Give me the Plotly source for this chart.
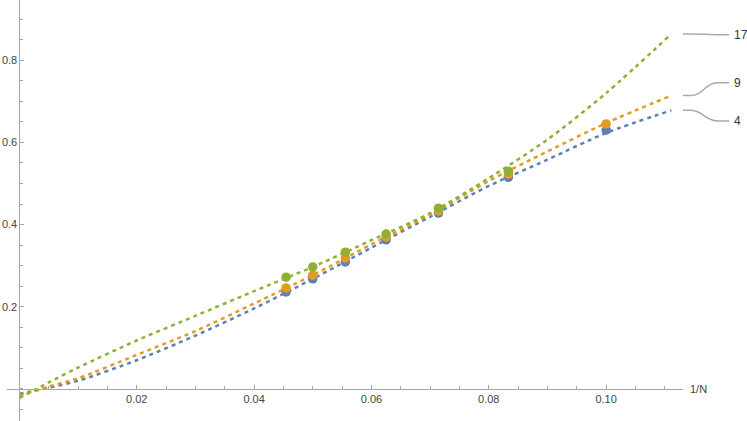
import plotly.graph_objects as go

# data
inv_n = [1/22, 1/20, 1/18, 1/16, 1/14, 1/12, 1/10]
pts_4 = [0.236, 0.268, 0.309, 0.363, 0.428, 0.515, 0.630]
pts_9 = [0.246, 0.277, 0.319, 0.370, 0.433, 0.523, 0.645]
pts_17 = [0.272, 0.297, 0.333, 0.377, 0.440, 0.530]

fit_x = [0, 0.005, 0.01, 0.02, 0.03, 0.04, 0.05, 0.06, 0.07, 0.08, 0.09, 0.10, 1/9]
fit_4 = [-0.012, 0.003, 0.020, 0.070, 0.130, 0.196, 0.268, 0.344, 0.419, 0.494, 0.558, 0.623, 0.678]
fit_9 = [-0.017, 0.006, 0.026, 0.083, 0.141, 0.208, 0.277, 0.352, 0.424, 0.506, 0.578, 0.647, 0.714]
fit_17 = [-0.022, 0.016, 0.052, 0.118, 0.178, 0.238, 0.297, 0.362, 0.428, 0.513, 0.607, 0.720, 0.864]

labels = ['4', '9', '17']
label_y = [0.652, 0.745, 0.862]

x_ticks = [0.02, 0.04, 0.06, 0.08, 0.10]
x_ticktext = ['0.02', '0.04', '0.06', '0.08', '0.10']
y_ticks = [0.2, 0.4, 0.6, 0.8]
y_ticktext = ['0.2', '0.4', '0.6', '0.8']

colors = ['#5E81B5', '#E19C24', '#8FB032']
axis_color = '#a6a6a6'
text_color = '#444444'
font_family = 'Liberation Sans, Arial, sans-serif'

W, H = 747, 421
x_dom = [7 / W, 683 / W]
x_rng = [-0.00211, 0.1131]
y_rng = [-0.0779, 0.9465]

fig = go.Figure()

for fx, fy, c in zip([fit_x] * 3, [fit_4, fit_9, fit_17], colors):
    fig.add_trace(go.Scatter(
        x=fx, y=fy, mode='lines',
        line=dict(color=c, width=2.5, dash='4px,4px', shape='spline', smoothing=0.8),
        hoverinfo='skip'
    ))

for px_, py_, c in zip([inv_n, inv_n, inv_n[:6]], [pts_4, pts_9, pts_17], colors):
    fig.add_trace(go.Scatter(
        x=px_, y=py_, mode='markers',
        marker=dict(color=c, size=9.5, line=dict(width=0))
    ))

# leader lines to the curve labels
ends = [fit_4[-1], fit_9[-1], fit_17[-1]]
x0, x1, xa, xb = 683 / W, 729 / W, 690 / W, 718 / W
for lab, y_end, y_lab in zip(labels, ends, label_y):
    xm = (xa + xb) / 2
    path = (f'M {x0},{y_end} L {xa},{y_end} '
            f'C {xm},{y_end} {xm},{y_lab} {xb},{y_lab} L {x1},{y_lab}')
    fig.add_shape(type='path', path=path, xref='paper', yref='y',
                  line=dict(color='#aaaaaa', width=1.5))
    fig.add_annotation(x=732 / W, y=y_lab, xref='paper', yref='y', text=lab,
                       showarrow=False, xanchor='left', yanchor='middle',
                       font=dict(size=12, color='#333333', family=font_family))

fig.add_annotation(x=688 / W, y=0, xref='paper', yref='y', text='1/N',
                   showarrow=False, xanchor='left', yanchor='middle',
                   font=dict(size=11, color=text_color, family=font_family))

x_pos = (0 - y_rng[0]) / (y_rng[1] - y_rng[0])
y_pos = x_dom[0] + (0 - x_rng[0]) / (x_rng[1] - x_rng[0]) * (x_dom[1] - x_dom[0])

fig.update_layout(
    width=W, height=H,
    margin=dict(l=0, r=0, t=0, b=0, pad=0),
    plot_bgcolor='white', paper_bgcolor='white',
    showlegend=False,
    xaxis=dict(
        domain=x_dom, range=x_rng, anchor='free', position=x_pos,
        showline=True, linecolor=axis_color, linewidth=1,
        showgrid=False, zeroline=False,
        ticks='inside', ticklen=4, tickcolor=axis_color, tickwidth=1,
        tickvals=x_ticks, ticktext=x_ticktext,
        tickfont=dict(size=11, color=text_color, family=font_family),
        minor=dict(tickmode='linear', tick0=0, dtick=0.005, ticks='inside',
                   ticklen=2.5, tickcolor=axis_color, showgrid=False)
    ),
    yaxis=dict(
        domain=[0, 1], range=y_rng, anchor='free', position=y_pos,
        showline=True, linecolor=axis_color, linewidth=1,
        showgrid=False, zeroline=False,
        ticks='inside', ticklen=4, tickcolor=axis_color, tickwidth=1,
        tickvals=y_ticks, ticktext=y_ticktext,
        tickfont=dict(size=11, color=text_color, family=font_family),
        minor=dict(tickmode='linear', tick0=0, dtick=0.05, ticks='inside',
                   ticklen=2.5, tickcolor=axis_color, showgrid=False)
    )
)

# the page's default body margin would push the 747x421 figure off the window
fig.write_html('out.html', config={'displayModeBar': False},
               post_script="document.body.style.margin = '0px';")
